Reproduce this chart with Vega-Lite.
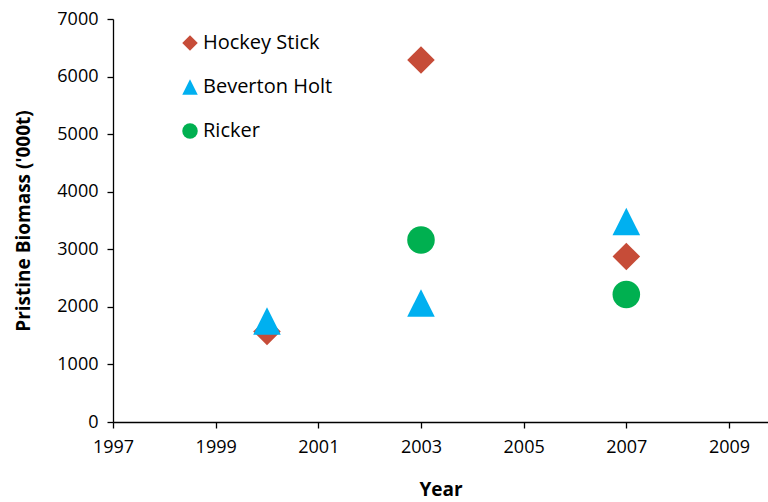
{
  "$schema": "https://vega.github.io/schema/vega-lite/v6.json",
  "autosize": "none",
  "width": 655,
  "height": 403,
  "padding": {"left": 113, "top": 19, "right": 0, "bottom": 80},
  "background": "white",
  "config": {
    "view": {"stroke": null},
    "font": "Open Sans",
    "axis": {"grid": false, "domainColor": "#000", "tickColor": "#000", "domainWidth": 1.3, "tickWidth": 1.3, "labelFont": "Open Sans", "labelFontSize": 18, "labelColor": "#000", "titleFont": "Open Sans", "titleFontSize": 19, "titleFontWeight": "bold", "titleColor": "#000", "tickSize": 6}
  },
  "data": {
    "values": [
      {"Year": 2000, "Model": "Hockey Stick", "Biomass": 1572},
      {"Year": 2003, "Model": "Hockey Stick", "Biomass": 6288},
      {"Year": 2007, "Model": "Hockey Stick", "Biomass": 2875},
      {"Year": 2000, "Model": "Beverton Holt", "Biomass": 1754},
      {"Year": 2003, "Model": "Beverton Holt", "Biomass": 2067},
      {"Year": 2007, "Model": "Beverton Holt", "Biomass": 3483},
      {"Year": 2003, "Model": "Ricker", "Biomass": 3161},
      {"Year": 2007, "Model": "Ricker", "Biomass": 2215}
    ]
  },
  "mark": {"type": "point", "filled": true, "opacity": 1, "size": 760},
  "encoding": {
    "x": {
      "field": "Year", "type": "quantitative",
      "scale": {"domain": [1997, 2009.76], "nice": false, "zero": false},
      "axis": {"values": [1997, 1999, 2001, 2003, 2005, 2007, 2009], "format": "d", "labelPadding": 10, "titlePadding": 24, "labelFlush": false}
    },
    "y": {
      "field": "Biomass", "type": "quantitative",
      "scale": {"domain": [0, 7000], "nice": false},
      "title": "Pristine Biomass ('000t)",
      "axis": {"values": [0, 1000, 2000, 3000, 4000, 5000, 6000, 7000], "format": "d", "labelPadding": 9, "titlePadding": 23, "labelFlush": false}
    },
    "color": {
      "field": "Model", "type": "nominal",
      "scale": {"domain": ["Hockey Stick", "Beverton Holt", "Ricker"], "range": ["#C64C38", "#00B0F0", "#00B050"]},
      "legend": {"orient": "none", "legendX": 67, "legendY": 14, "title": null, "symbolSize": 240, "labelFontSize": 20, "labelColor": "#000", "labelFont": "Open Sans", "rowPadding": 24, "padding": 0, "labelOffset": 3}
    },
    "shape": {
      "field": "Model", "type": "nominal",
      "scale": {"domain": ["Hockey Stick", "Beverton Holt", "Ricker"], "range": ["diamond", "M0,-1L1,1L-1,1Z", "circle"]}
    }
  }
}
